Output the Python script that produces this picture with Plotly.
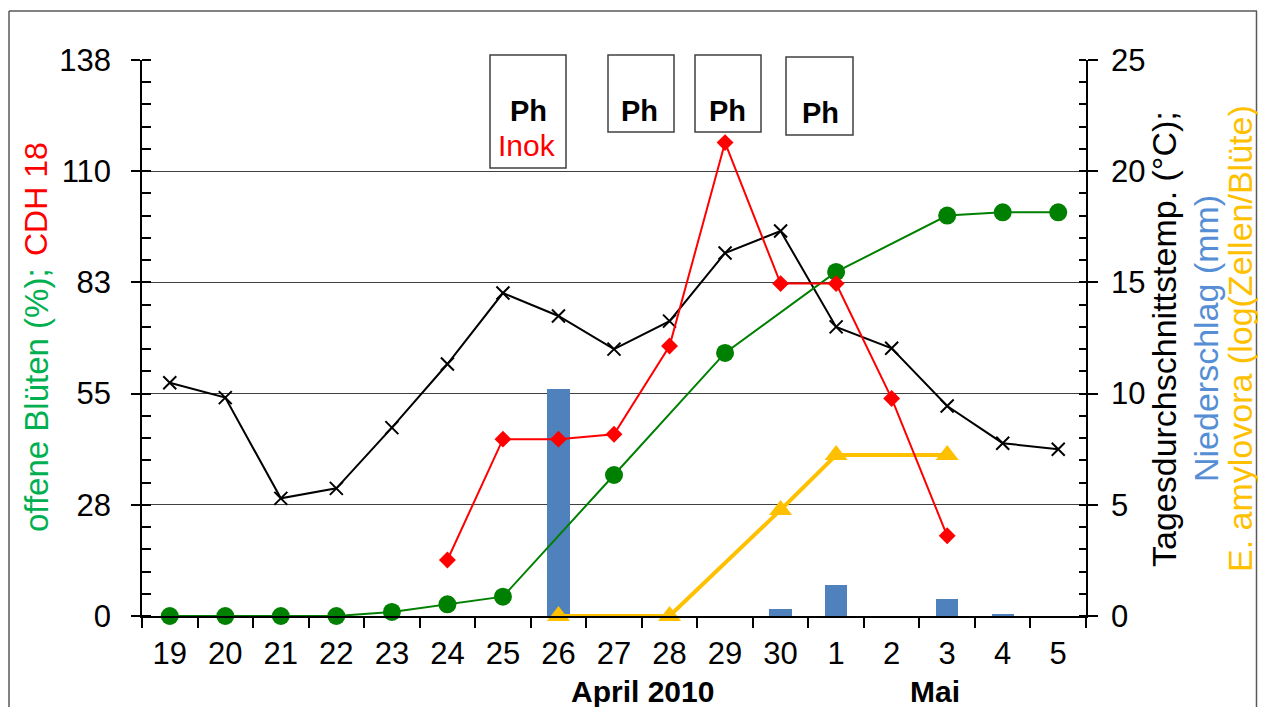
import plotly.graph_objects as go

# ---------------- data ----------------
categories = ["19", "20", "21", "22", "23", "24", "25", "26", "27", "28",
              "29", "30", "1", "2", "3", "4", "5"]
offene_blueten = [0, 0, 0, 0, 1.0, 2.9, 4.8, None, 35.0, None, 65.3, None,
                  85.4, None, 99.4, 100.2, 100.2]
cdh18 = [None, None, None, None, None, 13.9, 43.9, 43.9, 45.1, 67.0, 117.5,
         82.5, 82.5, 54.0, 19.9, None, None]
temperatur = [10.49, 9.82, 5.29, 5.74, 8.47, 11.33, 14.52, 13.49, 12.0, 13.26,
              16.32, 17.31, 13.0, 12.04, 9.44, 7.77, 7.5]
niederschlag = [0, 0, 0, 0, 0, 0, 0, 10.19, 0, 0, 0, 0.3, 1.38, 0, 0.75, 0.05, 0]
amylovora = [None, None, None, None, None, None, None, 0, None, 0, None, 4.77,
             7.24, None, 7.24, None, None]
left_tick_labels = ["0", "28", "55", "83", "110", "138"]
right_tick_labels = ["0", "5", "10", "15", "20", "25"]
box_texts = ["Ph", "Ph", "Ph", "Ph"]
inok_text = "Inok"
month_labels = ["April 2010", "Mai"]
left_title_parts = ["offene Blüten (%);", "CDH 18"]
right_title_lines = ["Tagesdurchschnittstemp. (°C);", "Niederschlag (mm)",
                     "E. amylovora (log(Zellen/Blüte)"]

FONT = "Liberation Sans, Arial, sans-serif"
GREEN = "#008000"
TITLE_GREEN = "#00B050"
RED = "#FF0000"
BLUE = "#4F81BD"
TITLE_BLUE = "#558ED5"
YELLOW = "#FFC000"

LEFT_MAX = 138
RIGHT_MAX = 25

# The page body has an 8px margin; the figure covers window pixels 8..1258 x 8..707
OFF = 8
W, H = 1266 - 2 * OFF, 715 - 2 * OFF
# plot area in window pixels
PL, PR, PT, PB = 142, 1086, 60, 616


def px(x):
    return (x - PL) / (PR - PL)


def py(y):
    return (PB - y) / (PB - PT)


fig = go.Figure()

fig.add_trace(go.Bar(x=categories, y=niederschlag, yaxis="y", xaxis="x",
                     marker=dict(color=BLUE, line=dict(width=0)), width=0.4))
fig.add_trace(go.Scatter(x=categories, y=temperatur, yaxis="y", xaxis="x",
                         mode="lines+markers", cliponaxis=False,
                         line=dict(color="black", width=2),
                         marker=dict(symbol="x-thin", size=13, color="black",
                                     line=dict(width=2, color="black"))))
fig.add_trace(go.Scatter(x=categories, y=amylovora, yaxis="y", xaxis="x",
                         mode="lines+markers", connectgaps=True, cliponaxis=False,
                         line=dict(color=YELLOW, width=4),
                         marker=dict(symbol="triangle-up", size=20, color=YELLOW)))
fig.add_trace(go.Scatter(x=categories, y=offene_blueten, yaxis="y2", xaxis="x",
                         mode="lines+markers", connectgaps=True, cliponaxis=False,
                         line=dict(color=GREEN, width=2),
                         marker=dict(symbol="circle", size=18, color=GREEN)))
fig.add_trace(go.Scatter(x=categories, y=cdh18, yaxis="y2", xaxis="x",
                         mode="lines+markers", connectgaps=True, cliponaxis=False,
                         line=dict(color=RED, width=2),
                         marker=dict(symbol="diamond", size=13, color=RED)))

n = len(categories)
tickfont = dict(family=FONT, size=31, color="black")

fig.update_layout(
    width=W, height=H,
    margin=dict(l=PL - OFF, r=(W + OFF) - PR, t=PT - OFF, b=(H + OFF) - PB, pad=0),
    paper_bgcolor="white", plot_bgcolor="white",
    showlegend=False,
    bargap=0,
    xaxis=dict(type="category", categoryorder="array", categoryarray=categories,
               range=[-0.5, n - 0.5], tickson="boundaries", ticks="outside",
               ticklen=10, tickwidth=1.5, tickcolor="black", showline=True,
               linecolor="black", linewidth=1.5, showgrid=False, zeroline=False,
               tickfont=tickfont, ticklabelstandoff=9),
    xaxis2=dict(overlaying="x", anchor="y", range=[-0.5, n - 0.5],
                tickmode="array", tickvals=[i - 0.5 for i in range(n + 1)],
                ticks="inside", ticklen=9, tickwidth=1.5, tickcolor="black",
                showticklabels=False, showgrid=False, zeroline=False,
                showline=False),
    yaxis=dict(side="right", range=[0, RIGHT_MAX], tickmode="array",
               tickvals=[float(t) for t in right_tick_labels],
               ticktext=right_tick_labels, ticks="outside", ticklen=10,
               tickwidth=1.5, tickcolor="black",
               minor=dict(dtick=1, tick0=0, ticks="inside", ticklen=7,
                          tickwidth=1.5, tickcolor="black", showgrid=False),
               showgrid=True, gridcolor="#404040", gridwidth=1,
               showline=True, linecolor="black", linewidth=1.5, zeroline=False,
               tickfont=tickfont, ticklabelstandoff=7),
    yaxis2=dict(overlaying="y", side="left", range=[0, LEFT_MAX],
                tickmode="array",
                tickvals=[i * LEFT_MAX / (len(left_tick_labels) - 1)
                          for i in range(len(left_tick_labels))],
                ticktext=left_tick_labels, ticks="outside", ticklen=9,
                tickwidth=1.5, tickcolor="black",
                minor=dict(dtick=LEFT_MAX / 25, tick0=0, ticks="inside",
                           ticklen=9, tickwidth=1.5, tickcolor="black",
                           showgrid=False),
                showgrid=False, showline=True, linecolor="black", linewidth=1.5,
                zeroline=False, tickfont=tickfont, ticklabelstandoff=14),
)

shapes = []
# outer frame (left, top, right edges)
frame = dict(color="#595959", width=1.5)
shapes.append(dict(type="line", xref="paper", yref="paper", x0=px(9), x1=px(9),
                   y0=py(740), y1=py(11), line=frame, layer="below"))
shapes.append(dict(type="line", xref="paper", yref="paper", x0=px(9),
                   x1=px(1257), y0=py(11), y1=py(11), line=frame, layer="below"))
shapes.append(dict(type="line", xref="paper", yref="paper", x0=px(1256.5),
                   x1=px(1256.5), y0=py(740), y1=py(11), line=frame,
                   layer="below"))
# "Ph" boxes
boxes = [(490, 566, 55, 168), (608, 674, 55, 132), (695, 761, 55, 132),
         (786, 853, 57, 135)]
for (x0, x1, y0, y1) in boxes:
    shapes.append(dict(type="rect", xref="paper", yref="paper",
                       x0=px(x0), x1=px(x1), y0=py(y1), y1=py(y0),
                       line=dict(color="#404040", width=1.5), fillcolor="white",
                       layer="above"))
fig.update_layout(shapes=shapes)

ann = []


def add_text(text, x, y, size, color="black", angle=0):
    ann.append(dict(text=text, x=px(x), y=py(y), xref="paper", yref="paper",
                    xanchor="center", yanchor="middle", showarrow=False,
                    textangle=angle, font=dict(family=FONT, size=size,
                                               color=color)))


ph_pos = [(528, 111), (639, 111), (727, 111), (820, 113)]
for t, (x, y) in zip(box_texts, ph_pos):
    add_text("<b>" + t + "</b>", x, y, 29)
add_text(inok_text, 527, 145, 30, RED)
# month labels
add_text("<b>" + month_labels[0] + "</b>", 642, 691, 30)
add_text("<b>" + month_labels[1] + "</b>", 935, 691, 30)
# left axis title (green part, red part)
add_text(left_title_parts[0], 36, 400, 33, TITLE_GREEN, angle=-90)
add_text(left_title_parts[1], 36, 199, 32, RED, angle=-90)
# right axis titles
for t, c, x in zip(right_title_lines, ["black", TITLE_BLUE, YELLOW],
                   [1164, 1206, 1240]):
    add_text(t, x, 339, 34, c, angle=-90)
fig.update_layout(annotations=ann)

fig.write_html("out.html")
